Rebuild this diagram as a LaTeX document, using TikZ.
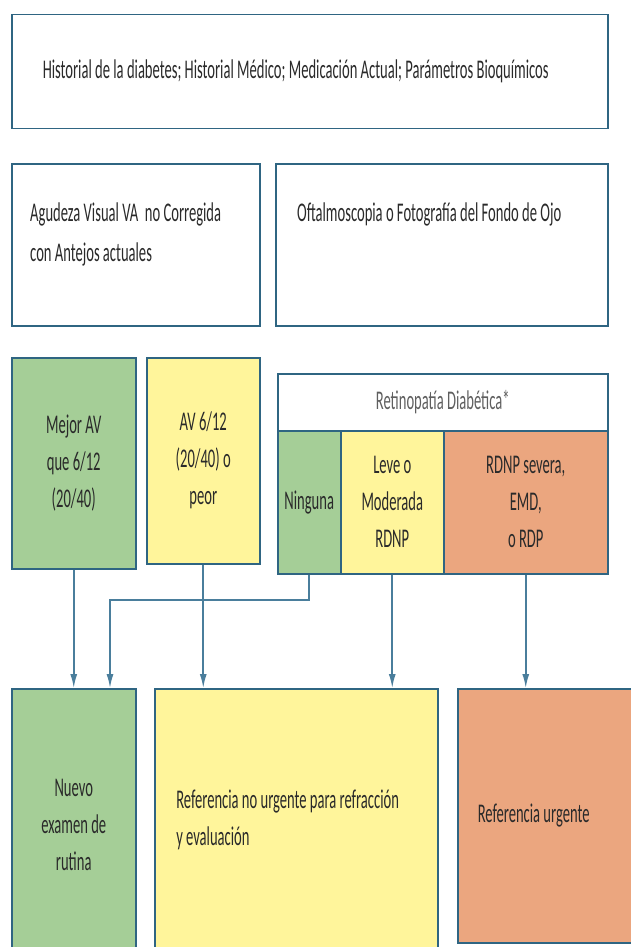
\documentclass[tikz,border=0pt]{standalone}
\usepackage{fontspec}
\setmainfont{Carlito}[FakeStretch=0.54]
\usetikzlibrary{arrows.meta}

\definecolor{marco}{HTML}{2F6582}
\definecolor{enlace}{HTML}{4A7E9C}
\definecolor{verde}{HTML}{A5CE97}
\definecolor{amarillo}{HTML}{FFF59B}
\definecolor{naranja}{HTML}{EBA67F}
\definecolor{texto}{HTML}{2A2A2A}

\tikzset{
  caja/.style={draw=marco,line width=1.5pt,anchor=north west,inner sep=0pt,
    text=texto,align=center,font=\fontsize{27}{37}\selectfont},
  rotulo/.style={anchor=north west,inner sep=0pt,text=texto,align=flush left,
    font=\fontsize{27}{40}\selectfont},
  flecha/.style={draw=enlace,line width=1.6pt,-{Latex[length=14pt,width=7pt]}}
}

\begin{document}
\begin{tikzpicture}[x=1pt,y=-1pt]
  \useasboundingbox (0,0) rectangle (631,947);

  % datos del paciente
  \path (11,14) node[caja,minimum width=596,minimum height=114,text width=534,align=flush left] (hist)
    {Historial de la diabetes; Historial Médico; Medicación Actual; Parámetros Bioquímicos};

  \path (11,163) node[caja,minimum width=248,minimum height=162] (agudeza) {};
  \path (275,163) node[caja,minimum width=332,minimum height=162] (fondo) {};
  \path (agudeza.north west) ++(19,40) node[rotulo] (t-agudeza)
    {Agudeza Visual VA\ \ no Corregida\\con Antejos actuales};
  \path (fondo.north west) ++(22,40) node[rotulo] (t-fondo)
    {Oftalmoscopia o Fotografía del Fondo de Ojo};

  % agudeza visual
  \path (11,357) node[caja,fill=verde,minimum width=124,minimum height=211] (mejor)
    {Mejor AV\\que 6/12\\(20/40)};
  \path (146,357) node[caja,fill=amarillo,minimum width=113,minimum height=206] (peor)
    {AV 6/12\\(20/40) o\\peor};

  % retinopatia
  \path (277,373) node[caja,minimum width=330,minimum height=57,text=texto!75] (retino)
    {Retinopatía Diabética*};
  \path (277,430) node[caja,fill=verde,minimum width=63,minimum height=143] (ninguna) {Ninguna};
  \path (340,430) node[caja,fill=amarillo,minimum width=103,minimum height=143] (leve)
    {Leve o\\Moderada\\RDNP};
  \path (443,430) node[caja,fill=naranja,minimum width=164,minimum height=143] (severa)
    {RDNP severa,\\EMD,\\o RDP};

  % conducta
  \path (11,688) node[caja,fill=verde,minimum width=124,minimum height=272] (nuevo)
    {Nuevo\\examen de\\rutina};
  \path (154,688) node[caja,fill=amarillo,minimum width=283,minimum height=262,text width=240,align=flush left] (refnu)
    {Referencia no urgente para refracción\\y evaluación};
  \path (457,688) node[caja,fill=naranja,minimum width=190,minimum height=254,text width=150,align=flush left] (urgente)
    {Referencia urgente};

  \coordinate (codo) at (110,600);

  \draw[flecha] (mejor.south) -- (nuevo.north);
  \draw[flecha] (ninguna.south) |- (codo) -- (codo |- nuevo.north);
  \draw[flecha] (peor.south) -- (peor.south |- refnu.north);
  \draw[flecha] (leve.south) -- (leve.south |- refnu.north);
  \draw[flecha] (severa.south) -- (severa.south |- urgente.north);
\end{tikzpicture}
\end{document}
